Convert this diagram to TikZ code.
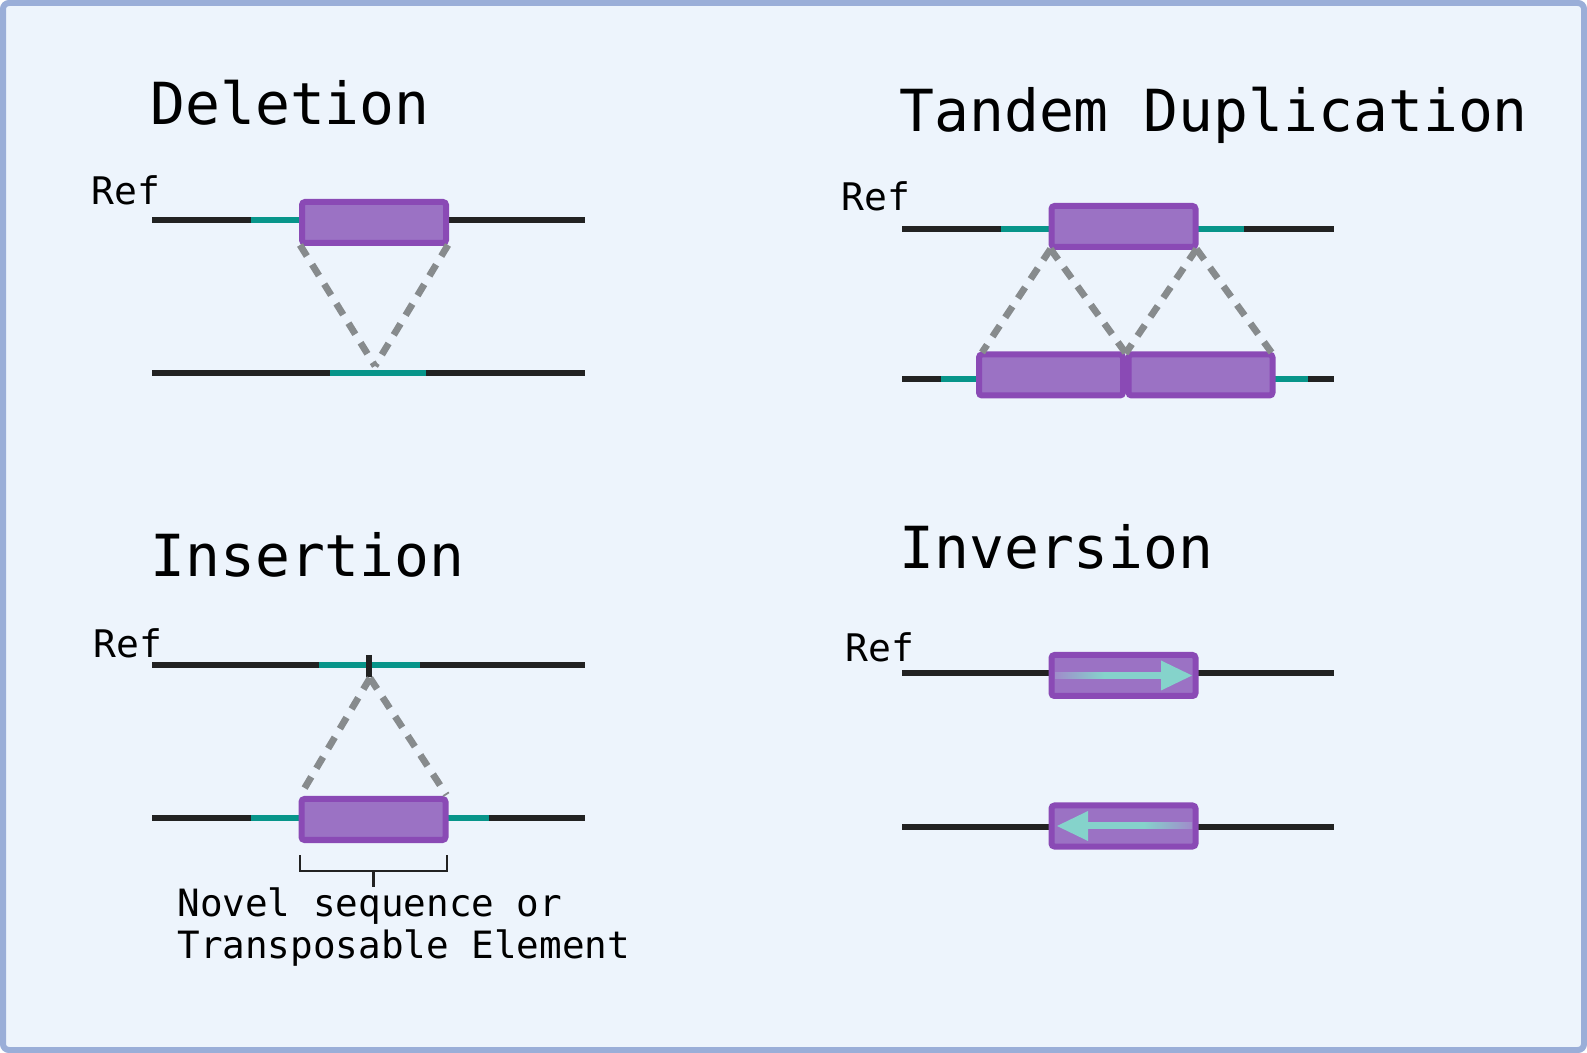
\documentclass[tikz,border=0pt]{standalone}
\usepackage{fontspec}
\setmainfont{DejaVu Sans Mono}
\usetikzlibrary{positioning,calc}
\definecolor{ink}{HTML}{222222}
\definecolor{bgf}{HTML}{EDF4FC}
\definecolor{frm}{HTML}{9AAED8}
\definecolor{tl}{HTML}{07958A}
\definecolor{segf}{HTML}{9B72C4}
\definecolor{segd}{HTML}{8A4AB5}
\definecolor{dsh}{HTML}{878B8D}
\definecolor{arw}{HTML}{85D3CB}
\definecolor{arwt}{HTML}{A08CCB}
\pgfdeclarehorizontalshading{fadein}{100bp}{color(0bp)=(arwt); color(25bp)=(arwt); color(48bp)=(arw); color(100bp)=(arw)}
\pgfdeclarehorizontalshading{fadeout}{100bp}{color(0bp)=(arw); color(52bp)=(arw); color(75bp)=(arwt); color(100bp)=(arwt)}
\tikzset{
  chrom/.style={line width=3pt,ink},
  flank/.style={line width=2.6pt,tl},
  seg/.style={draw=segd,fill=segf,line width=3pt,rounded corners=1.5pt,minimum width=72pt,minimum height=20.5pt,inner sep=0pt},
  link/.style={line width=3.4pt,dsh,dash pattern=on 6.5pt off 5pt},
  brk/.style={line width=1.1pt,ink},
  head/.style={font=\fontsize{29}{34}\selectfont,anchor=base west,inner sep=0pt,text=black},
  reflab/.style={font=\fontsize{19}{22}\selectfont,anchor=base west,inner sep=0pt,text=black},
  captext/.style={font=\fontsize{18.8}{21}\selectfont,anchor=base west,inner sep=0pt,text=black}
}

\begin{document}
\begin{tikzpicture}[x=0.5pt,y=-0.5pt]
\useasboundingbox (0,0) rectangle (1587,1053);
\draw[frm,fill=bgf,line width=3pt,rounded corners=3pt] (3,3) rectangle (1584,1050);
% deletion
\node[head] (deltitle) at (150,125) {Deletion};
\node[reflab] (delref) at (91,205) {Ref};
\coordinate (dela) at (152,220); \coordinate (delb) at (585,220);
\coordinate (delc) at (152,373); \coordinate (deld) at (585,373);
\coordinate (delgap) at (375,366);
\draw[chrom] (dela) -- (delb);
\draw[chrom] (delc) -- (deld);
\draw[flank] (251,220) -- (448,220);
\draw[flank] (330,373) -- (426,373);
\node[seg] (delbox) at (374,222.5) {};
\draw[link] ($(delbox.south west)+(1,-1)$) -- (delgap);
\draw[link] ($(delbox.south east)+(-1,-1)$) -- (delgap);
% tandem duplication
\node[head] (duptitle) at (899,132) {Tandem Duplication};
\node[reflab] (dupref) at (841,211) {Ref};
\coordinate (dupa) at (902,229); \coordinate (dupb) at (1334,229);
\coordinate (dupc) at (902,379); \coordinate (dupd) at (1334,379);
\draw[chrom] (dupa) -- (dupb);
\draw[chrom] (dupc) -- (dupd);
\draw[flank] (1001,229) -- (1244,229);
\draw[flank] (941,379) -- (1308,379);
\node[seg] (dupbox) at (1123.5,226.5) {};
\node[seg] (dupone) at (1051,375) {};
\node[seg] (duptwo) at (1200.5,375) {};
\draw[link] ($(dupbox.south west)+(2,-1)$) -- ($(dupone.north west)+(6,1)$);
\draw[link] ($(dupbox.south west)+(2,-1)$) -- ($(dupone.north east)+(0,2)$);
\draw[link] ($(dupbox.south east)+(-2,-1)$) -- ($(duptwo.north west)+(0,2)$);
\draw[link] ($(dupbox.south east)+(-2,-1)$) -- ($(duptwo.north east)+(-4,1)$);
% insertion
\node[head] (institle) at (150,577) {Insertion};
\node[reflab] (insref) at (93,658) {Ref};
\coordinate (insa) at (152,665); \coordinate (insb) at (585,665);
\coordinate (insc) at (152,818); \coordinate (insd) at (585,818);
\coordinate (inspt) at (370,678);
\draw[chrom] (insa) -- (insb);
\draw[chrom] (insc) -- (insd);
\draw[flank] (319,665) -- (420,665);
\draw[line width=3pt,ink] (369,655) -- (369,677);
\draw[flank] (251,818) -- (489,818);
\node[seg] (insbox) at (373.5,819.5) {};
\draw[link] (inspt) -- ($(insbox.north west)+(2,-1)$);
\draw[link] (inspt) -- ($(insbox.north east)+(-2,-1)$);
\draw[brk] (300,855) -- (300,871) -- (447,871) -- (447,855);
\draw[brk] (373.5,871) -- (373.5,887);
\node[captext] (capa) at (177,916) {Novel sequence or};
\node[captext] (capb) at (177,958) {Transposable Element};
% inversion
\node[head] (invtitle) at (899,569) {Inversion};
\node[reflab] (invref) at (845,662) {Ref};
\coordinate (inva) at (902,673); \coordinate (invb) at (1334,673);
\coordinate (invc) at (902,827); \coordinate (invd) at (1334,827);
\draw[chrom] (inva) -- (invb);
\draw[chrom] (invc) -- (invd);
\node[seg] (invtop) at (1123.5,675.5) {};
\node[seg] (invbot) at (1123.5,826) {};
\shade[shading=fadein] (1055,672.5) rectangle (1162,678.5);
\fill[arw] (1161,660.5) -- (1192,675.5) -- (1161,690.5) -- cycle;
\shade[shading=fadeout] (1087,823) rectangle (1192,829);
\fill[arw] (1088,811) -- (1057,826) -- (1088,841) -- cycle;
\end{tikzpicture}
\end{document}
